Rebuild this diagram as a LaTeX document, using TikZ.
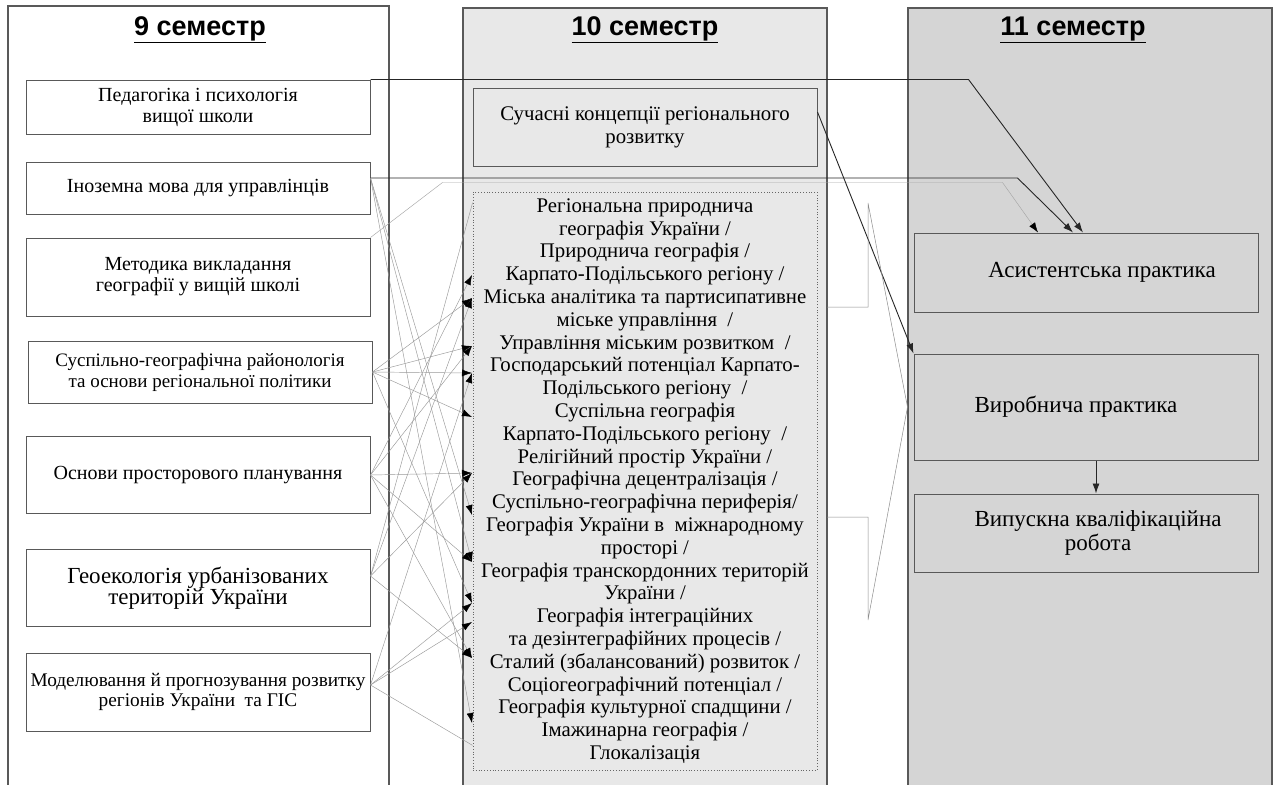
\documentclass[tikz,border=0pt]{standalone}
\usepackage{fontspec}
\setmainfont{Liberation Serif}
\newfontfamily\headfont{Liberation Sans}
\usetikzlibrary{arrows.meta}

\definecolor{colmid}{gray}{0.91}
\definecolor{coldark}{gray}{0.835}
\definecolor{frame}{gray}{0.35}

\newcommand\semfont{\fontsize{20}{21}\selectfont}
\newcommand\listfont{\fontsize{20.8}{22.8}\selectfont}
\newcommand\practfont{\fontsize{23}{24}\selectfont}

\tikzset{
  semcol/.style={draw=frame, line width=1.2pt},
  semhead/.style={font=\headfont\bfseries\fontsize{27}{30}\selectfont},
  sembox/.style={draw=frame, line width=1pt, inner sep=0pt, align=center, minimum width=344pt},
  thinlink/.style={draw=black!40, line width=0.45pt, -{Latex[color=black,length=10pt,width=7pt]}},
  mainlink/.style={draw=black!85, line width=0.9pt, -{Latex[length=10pt,width=7pt]}},
  bracket/.style={draw=black!45, line width=0.5pt}
}

\begin{document}
\begin{tikzpicture}[x=1pt,y=-1pt]
\useasboundingbox (0,0) rectangle (1276,784);
\clip (0,0) rectangle (1276,784);
\fill[white] (0,0) rectangle (1276,784);
\draw[semcol, fill=white] (8,6) rectangle (389,800);
\draw[semcol, fill=colmid] (463,8) rectangle (827,800);
\draw[semcol, fill=coldark] (908,8) rectangle (1272,800);

\node[semhead] (h9) at (200,30) {\underline{9 семестр}};
\node[semhead] (h10) at (645,30) {\underline{10 семестр}};
\node[semhead] (h11) at (1073,30) {\underline{11 семестр}};

\node[sembox, fill=white, minimum height=54pt, font=\semfont] (ped) at (198,107) {Педагогіка і психологія\\вищої школи};
\node[sembox, fill=white, minimum height=52pt, font=\semfont] (ins) at (198,188) {Іноземна мова для управлінців};
\node[sembox, fill=white, minimum height=78pt, font=\semfont] (met) at (198,277) {Методика викладання\\географії у вищій школі};
\node[sembox, fill=white, minimum height=62pt, font=\fontsize{19}{21}\selectfont] (rai) at (200,372) {Суспільно-географічна районологія\\та основи регіональної політики};
\node[sembox, fill=white, minimum height=77pt, font=\semfont] (plan) at (198,475) {Основи просторового планування};
\node[sembox, fill=white, minimum height=77pt, font=\fontsize{23}{21}\selectfont] (geo) at (198,588) {Геоекологія урбанізованих\\територій України};
\node[sembox, fill=white, minimum height=78pt, font=\fontsize{19.3}{20}\selectfont] (mod) at (198,692) {Моделювання й прогнозування розвитку\\регіонів України \ та ГІС};

\node[sembox, fill=colmid, minimum height=78pt, font=\listfont] (conc) at (645,127) {Сучасні концепції регіонального\\розвитку};
\node[draw=black!60, dotted, line width=0.8pt, inner sep=0pt, minimum width=344pt, minimum height=578pt, align=center, font=\listfont] (elect) at (645,481) {Регіональна природнича\\
географія України /\\
Природнича географія /\\
Карпато-Подільського регіону /\\
Міська аналітика та партисипативне\\
міське управління \ /\\
Управління міським розвитком \ /\\
Господарський потенціал Карпато-\\
Подільського регіону \ /\\
Суспільна географія\\
Карпато-Подільського регіону \ /\\
Релігійний простір України /\\
Географічна децентралізація /\\
Суспільно-географічна периферія/\\
Географія України в \ міжнародному\\
просторі /\\
Географія транскордонних територій\\
України /\\
Географія інтеграційних\\
та дезінтеграфійних процесів /\\
Сталий (збалансований) розвиток /\\
Соціогеографічний потенціал /\\
Географія культурної спадщини /\\
Імажинарна географія /\\
Глокалізація};

\node[sembox, fill=coldark, minimum height=79pt, font=\practfont] (asist) at (1086,272.5) {\hspace*{32pt}Асистентська практика};
\node[sembox, fill=coldark, minimum height=106pt, font=\practfont] (vyr) at (1086,407) {\raisebox{-10pt}{Виробнича практика}\hspace*{20pt}};
\node[sembox, fill=coldark, minimum height=78pt, font=\practfont] (vyp) at (1086,533) {\hspace*{24pt}Випускна кваліфікаційна\\\hspace*{24pt}робота};

\coordinate (s2) at ([yshift=10pt]ins.east);
\coordinate (s4) at (rai.east);
\coordinate (s5) at (plan.east);
\coordinate (s6) at ([yshift=12pt]geo.east);
\coordinate (s7) at ([yshift=7pt]mod.east);
\foreach \n/\y in {1/275,2/298,3/346,4/373,5/417,6/473,7/515,8/562,9/603,10/622,11/658,12/723}
  \coordinate (t\n) at (472,\y);
\foreach \s/\t in {s2/t7,s2/t8,s2/t12,s4/t2,s4/t3,s4/t4,s4/t5,s4/t9,s5/t1,s5/t3,s5/t6,s5/t8,s5/t11,s6/t2,s6/t6,s6/t11,s7/t4,s7/t9,s7/t10}
  \draw[thinlink] (\s) -- (\t);
\draw[thinlink, -] (s6) -- ([yshift=-11pt]elect.north west);
\draw[thinlink, -] (s7) -- ([yshift=25pt]elect.south west);

\draw[mainlink] (ped.north east) -- ++(598,0) -- ([xshift=-3pt]asist.north);
\draw[mainlink] (s2) -- ++(647,0) -- ([xshift=-13pt]asist.north);
\draw[thinlink, draw=black!35] (met.north east) -- ++(72,-55) -- ++(560,0) -- ([xshift=-48pt]asist.north);
\draw[mainlink] ([yshift=15pt]conc.east) -- (vyr.north west);
\draw[mainlink] ([xshift=10pt]vyr.south) -- ([xshift=10pt]vyr.south |- vyp.north);
\draw[bracket] (827,307) -- ++(41,0) -- ++(0,-104) -- ([xshift=-6pt]vyr.west) -- (868,620) -- ++(0,-103) -- ++(-41,0);
\end{tikzpicture}
\end{document}
